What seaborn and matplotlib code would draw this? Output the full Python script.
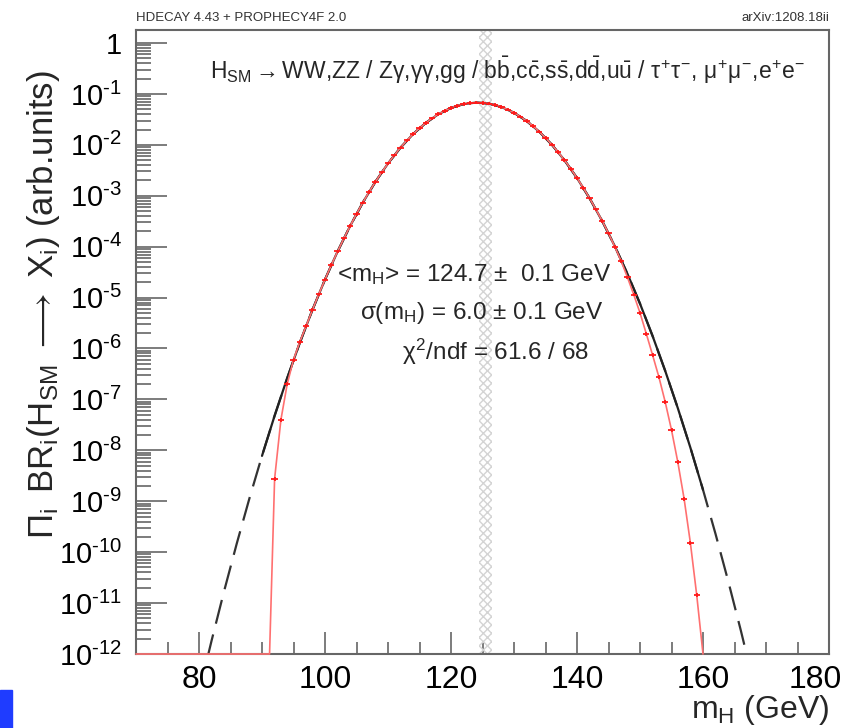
import numpy as np
import pandas as pd
import matplotlib
matplotlib.use("Agg")
import matplotlib.pyplot as plt
import seaborn as sns
from matplotlib.ticker import FixedLocator, FixedFormatter, MultipleLocator, LogLocator, NullFormatter
from matplotlib.patches import Rectangle
from matplotlib.transforms import ScaledTranslation

# ---------------- data ----------------
# Gaussian fit curve, log10 of value, sampled every 2 GeV
fit_mass = [80, 82, 84, 86, 88, 90, 92, 94, 96, 98, 100, 102, 104, 106, 108, 110,
            112, 114, 116, 118, 120, 122, 124, 126, 128, 130, 132, 134, 136, 138,
            140, 142, 144, 146, 148, 150, 152, 154, 156, 158, 160, 162, 164, 166, 168]
fit_log = [-12.761, -11.736, -10.758, -9.828, -8.945, -8.109, -7.321, -6.581, -5.888,
           -5.243, -4.645, -4.094, -3.591, -3.135, -2.727, -2.366, -2.053, -1.787,
           -1.569, -1.398, -1.275, -1.199, -1.170, -1.189, -1.256, -1.370, -1.531,
           -1.740, -1.996, -2.300, -2.651, -3.050, -3.496, -3.990, -4.531, -5.119,
           -5.755, -6.439, -7.170, -7.948, -8.774, -9.647, -10.568, -11.536, -12.552]
fit_range = (90, 160)

# product of branching ratios, log10, per 1 GeV bin
data_mass = list(range(92, 160))
data_log = [-8.56, -7.40, -6.70, -6.22, -5.87, -5.559, -5.243, -4.938, -4.645, -4.363,
            -4.094, -3.837, -3.591, -3.357, -3.135, -2.925, -2.727, -2.541, -2.366,
            -2.204, -2.053, -1.914, -1.787, -1.672, -1.569, -1.478, -1.398, -1.330,
            -1.275, -1.231, -1.199, -1.179, -1.170, -1.174, -1.189, -1.217, -1.256,
            -1.307, -1.370, -1.444, -1.531, -1.629, -1.740, -1.862, -1.996, -2.142,
            -2.300, -2.470, -2.651, -2.845, -3.050, -3.267, -3.496, -3.737, -4.00,
            -4.28, -4.60, -4.94, -5.30, -5.71, -6.13, -6.56, -7.05, -7.60, -8.23,
            -8.95, -9.82, -10.84]
data_rel_err = 0.08
edge_left_mass = [70, 91.2]
edge_right_mass = [160.0]
y_floor = 1e-12

band = (124.5, 126.5)

x_ticks = [80, 100, 120, 140, 160, 180]
y_decades = list(range(0, -13, -1))
HYPH = "\u2010"
y_labels = ["1"] + ["$10^{" + HYPH + "%d}$" % (-d) for d in y_decades[1:]]

# ---------------- style ----------------
sns.set_style("white")
plt.rcParams["font.family"] = ["Liberation Sans", "DejaVu Sans"]
plt.rcParams["mathtext.fontset"] = "custom"
plt.rcParams["mathtext.rm"] = "Liberation Sans"
plt.rcParams["mathtext.it"] = "Liberation Sans"
plt.rcParams["mathtext.sf"] = "Liberation Sans"
plt.rcParams["mathtext.bf"] = "Liberation Sans:bold"

W, H = 851, 728
fig = plt.figure(figsize=(W / 100, H / 100), dpi=100)
L, R, T, B = 136, 829, 30, 654
ax = fig.add_axes([L / W, 1 - B / H, (R - L) / W, (B - T) / H])


def fx(px):
    return px / W


def fy(py):
    return 1 - py / H


# hatched band
ax.axvspan(band[0], band[1], hatch="xxxx", fill=False, edgecolor="#d4d4d4", lw=0, zorder=1)

# fit curve: dashed everywhere, solid in fit range
fit_df = pd.DataFrame({"m": fit_mass, "v": [10 ** v for v in fit_log]})
sns.lineplot(data=fit_df, x="m", y="v", ax=ax, color="#333333", linewidth=1.6,
             estimator=None, sort=False, zorder=3)
ax.lines[-1].set_dashes((11, 5))
solid_df = fit_df[(fit_df.m >= fit_range[0]) & (fit_df.m <= fit_range[1])]
sns.lineplot(data=solid_df, x="m", y="v", ax=ax, color="#222222", linewidth=1.6,
             estimator=None, sort=False, zorder=4)

# red curve through the points
data_vals = np.array([10 ** v for v in data_log])
red_x = edge_left_mass + data_mass + edge_right_mass
red_y = [y_floor] * len(edge_left_mass) + list(data_vals) + [y_floor] * len(edge_right_mass)
red_df = pd.DataFrame({"m": red_x, "v": red_y})
sns.lineplot(data=red_df, x="m", y="v", ax=ax, color="#ff7070", linewidth=1.2,
             estimator=None, sort=False, zorder=5)
ax.lines[-1].set_clip_on(False)

ax.errorbar(data_mass, data_vals, xerr=0.5,
            yerr=[data_vals * data_rel_err, data_vals * data_rel_err],
            fmt="none", ecolor="#ff1a1a", elinewidth=1.3, capsize=0, zorder=6)

# axes
ax.set_yscale("log")
ax.set_xlim(70, 180)
ax.set_ylim(1e-12, 1.8)

ax.xaxis.set_major_locator(FixedLocator(x_ticks))
ax.xaxis.set_minor_locator(MultipleLocator(5))
ax.yaxis.set_major_locator(FixedLocator([10.0 ** d for d in y_decades]))
ax.yaxis.set_major_formatter(FixedFormatter(y_labels))
ax.yaxis.set_minor_locator(LogLocator(base=10, subs=np.arange(2, 10), numticks=100))
ax.yaxis.set_minor_formatter(NullFormatter())

ax.tick_params(axis="both", which="both", direction="in", colors="#666666",
               bottom=True, left=True, top=False, right=False)
ax.tick_params(axis="x", which="major", length=16, width=1.2, labelsize=23,
               labelcolor="black", pad=8)
ax.tick_params(axis="x", which="minor", length=9, width=1.2)
ax.tick_params(axis="y", which="major", length=22, width=1.2, labelsize=21,
               labelcolor="black", pad=10)
ax.tick_params(axis="y", which="minor", length=11, width=1.2)
for s in ax.spines.values():
    s.set_color("#666666")
    s.set_linewidth(1.5)
ax.set_xlabel("")
ax.set_ylabel("")

# shift the last x label left as in the reference
fig.canvas.draw()
last = ax.get_xticklabels()[-1]
last.set_transform(last.get_transform() + ScaledTranslation(-14 / 100, 0, fig.dpi_scale_trans))

# texts
fig.text(fx(L), fy(18), "HDECAY 4.43 + PROPHECY4F 2.0", fontsize=9.5,
         family=["Liberation Sans Narrow", "Liberation Sans"], color="#333333",
         ha="left", va="center")
fig.text(fx(R), fy(18), "arXiv:1208.18ii", fontsize=9.5,
         family=["Liberation Sans Narrow", "Liberation Sans"], color="#333333",
         ha="right", va="center")

fig.text(fx(507), fy(70),
         r"H$_{\mathrm{SM}}$$\rightarrow$WW,ZZ / Z$\gamma$,$\gamma\gamma$,gg / "
         r"b$\bar{\mathrm{b}}$,c$\bar{\mathrm{c}}$,s$\bar{\mathrm{s}}$,d$\bar{\mathrm{d}}$,"
         r"u$\bar{\mathrm{u}}$ / $\tau^{+}\tau^{-}$, $\mu^{+}\mu^{-}$,e$^{+}$e$^{-}$",
         fontsize=16.5, ha="center", va="center")

fig.text(fx(474), fy(275), r"<m$_{\mathrm{H}}$> = 124.7 $\pm$  0.1 GeV",
         fontsize=17.5, ha="center", va="center")
fig.text(fx(482), fy(313), r"$\sigma$(m$_{\mathrm{H}}$) = 6.0 $\pm$ 0.1 GeV",
         fontsize=17.5, ha="center", va="center")
fig.text(fx(496), fy(352), r"$\chi^{2}$/ndf = 61.6 / 68",
         fontsize=17.5, ha="center", va="center")

fig.text(fx(44), fy(305),
         r"$\Pi_{\mathrm{i}}\,$ BR$_{\mathrm{i}}$(H$_{\mathrm{SM}}$ $\longrightarrow$ X$_{\mathrm{i}}$) (arb.units)",
         fontsize=25, rotation=90, ha="center", va="center")
fig.text(fx(R), fy(710), r"m$_{\mathrm{H}}$ (GeV)", fontsize=23, ha="right", va="center")

fig.patches.append(Rectangle((0, 0), 12 / W, 38 / H, transform=fig.transFigure,
                             color="#1f3cff", zorder=10))

fig.savefig("out.png", dpi=100)
